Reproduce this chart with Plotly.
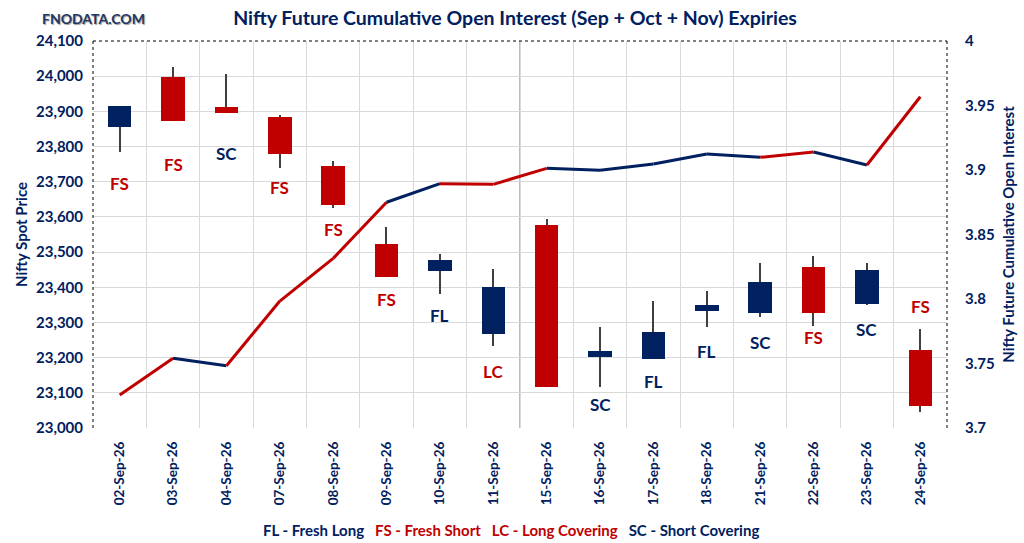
import plotly.graph_objs as go

NAVY = '#002060'
RED = '#C00000'
FONT = 'Lato'

dates = ['02-Sep-26', '03-Sep-26', '04-Sep-26', '07-Sep-26', '08-Sep-26', '09-Sep-26',
         '10-Sep-26', '11-Sep-26', '15-Sep-26', '16-Sep-26', '17-Sep-26', '18-Sep-26',
         '21-Sep-26', '22-Sep-26', '23-Sep-26', '24-Sep-26']

# spot price candles
price_open = [23856, 23998, 23912, 23884, 23745, 23523, 23447, 23268,
              23577, 23202, 23197, 23333, 23328, 23458, 23353, 23222]
price_close = [23915, 23873, 23896, 23780, 23635, 23430, 23478, 23400,
               23117, 23219, 23273, 23350, 23415, 23328, 23449, 23063]
price_high = [23915, 24025, 24006, 23890, 23758, 23572, 23495, 23451,
              23594, 23286, 23362, 23389, 23468, 23489, 23468, 23281]
price_low = [23785, 23873, 23896, 23738, 23624, 23430, 23381, 23233,
             23117, 23116, 23197, 23288, 23315, 23290, 23350, 23046]

# cumulative open interest (right axis)
oi = [3.7256, 3.7540, 3.7483, 3.7984, 3.8315, 3.8750, 3.8894, 3.8889,
      3.9013, 3.8998, 3.9047, 3.9124, 3.9098, 3.9140, 3.9039, 3.9568]
# colour of each OI segment (i -> i+1): S = red, L = navy
oi_seg = ['S', 'L', 'S', 'S', 'S', 'L', 'S', 'S', 'L', 'L', 'L', 'L', 'S', 'L', 'S']

# build-up labels and the price level they sit at
tags = ['FS', 'FS', 'SC', 'FS', 'FS', 'FS', 'FL', 'LC', '', 'SC', 'FL', 'FL', 'SC', 'FS', 'SC', 'FS']
tag_y = [23696, 23748, 23779, 23685, 23563, 23364, 23321, 23160,
         23300, 23068, 23132, 23217, 23242, 23256, 23279, 23344]

y_ticks = list(range(23000, 24101, 100))
y2_ticks = [3.7, 3.75, 3.8, 3.85, 3.9, 3.95, 4.0]
y2_text = ['3.7', '3.75', '3.8', '3.85', '3.9', '3.95', '4']

fig = go.Figure()

body_col = [NAVY if c > o else RED for o, c in zip(price_open, price_close)]

# wicks
fig.add_trace(go.Bar(
    x=dates,
    y=[h - l for h, l in zip(price_high, price_low)],
    base=price_low,
    width=0.022,
    marker={'color': '#404040', 'line': {'width': 0}},
    hoverinfo='skip',
    showlegend=False
))

# bodies
fig.add_trace(go.Bar(
    x=dates,
    y=[max(abs(c - o), 2) for o, c in zip(price_open, price_close)],
    base=[min(o, c) for o, c in zip(price_open, price_close)],
    width=0.44,
    marker={'color': body_col, 'line': {'width': 0}},
    showlegend=False
))

# OI line, one segment at a time
for i in range(len(oi) - 1):
    fig.add_trace(go.Scatter(
        x=dates[i:i + 2],
        y=oi[i:i + 2],
        mode='lines',
        line={'color': RED if oi_seg[i] == 'S' else NAVY, 'width': 3},
        yaxis='y2',
        showlegend=False
    ))

# labels
for d, t, ty in zip(dates, tags, tag_y):
    if not t:
        continue
    fig.add_annotation(
        x=d, y=ty, text=t, showarrow=False,
        font={'family': FONT, 'size': 17, 'weight': 'bold',
              'color': RED if t in ('FS', 'LC') else NAVY}
    )

# separator between 11-Sep and 15-Sep
fig.add_shape(type='line', xref='x', yref='paper', x0=7.5, x1=7.5, y0=0, y1=1,
              line={'color': '#A6A6A6', 'width': 1.5}, layer='below')

# dotted frame (left, top, right)
for x0, y0, x1, y1 in [(0, 0, 0, 1), (0, 1, 1, 1), (1, 0, 1, 1)]:
    fig.add_shape(type='line', xref='paper', yref='paper', x0=x0, y0=y0, x1=x1, y1=y1,
                  line={'color': 'black', 'width': 1, 'dash': 'dot'})

fig.add_annotation(
    xref='paper', yref='paper', x=0.49, y=-0.264, showarrow=False,
    xanchor='center', yanchor='middle',
    text=(f"<span style='color:{NAVY}'>FL - Fresh Long</span>   "
          f"<span style='color:{RED}'>FS - Fresh Short</span>   "
          f"<span style='color:{RED}'>LC - Long Covering</span>   "
          f"<span style='color:{NAVY}'>SC - Short Covering</span>"),
    font={'family': FONT, 'size': 15, 'weight': 'bold'}
)

fig.add_annotation(
    xref='paper', yref='paper', x=0.0, y=1.059, showarrow=False,
    xanchor='center', yanchor='middle',
    text='FNODATA.COM',
    font={'family': FONT, 'size': 14, 'weight': 'bold', 'color': '#1F3864',
          'shadow': '1px 1px 1px #9a9a9a'}
)

fig.update_layout(
    title={'text': 'Nifty Future Cumulative Open Interest (Sep + Oct + Nov) Expiries',
           'x': 0.503, 'xanchor': 'center', 'y': 0.967, 'yanchor': 'middle',
           'font': {'family': FONT, 'size': 19.5, 'weight': 'bold', 'color': NAVY}},
    width=1024, height=543,
    margin={'l': 93, 'r': 77, 't': 41, 'b': 115},
    plot_bgcolor='white', paper_bgcolor='white',
    barmode='overlay',
    bargap=0,
    xaxis={'type': 'category', 'tickson': 'boundaries', 'tickangle': -90,
           'showgrid': True, 'gridcolor': '#D9D9D9', 'gridwidth': 1,
           'ticks': '', 'ticklabelstandoff': 10,
           'tickfont': {'family': FONT, 'size': 13.5, 'weight': 'bold', 'color': NAVY},
           'range': [-0.5, 15.5], 'automargin': False, 'zeroline': False},
    yaxis={'range': [23000, 24100], 'tickvals': y_ticks, 'tickformat': ',d',
           'showgrid': True, 'gridcolor': '#D9D9D9', 'gridwidth': 1,
           'ticks': 'outside', 'ticklen': 6, 'tickcolor': 'white',
           'tickfont': {'family': FONT, 'size': 15, 'weight': 'bold', 'color': NAVY},
           'title': {'text': 'Nifty Spot Price', 'standoff': 4,
                     'font': {'family': FONT, 'size': 15, 'weight': 'bold', 'color': NAVY}},
           'automargin': False, 'zeroline': False},
    yaxis2={'range': [3.7, 4.0], 'overlaying': 'y', 'side': 'right',
            'tickvals': y2_ticks, 'ticktext': y2_text, 'showgrid': False,
            'ticks': 'outside', 'ticklen': 14, 'tickcolor': 'white',
            'tickfont': {'family': FONT, 'size': 15, 'weight': 'bold', 'color': NAVY},
            'title': {'text': 'Nifty Future Cumulative Open Interest', 'standoff': 9,
                      'font': {'family': FONT, 'size': 15, 'weight': 'bold', 'color': NAVY}},
            'automargin': False, 'zeroline': False}
)

fig.write_html('out.html', config={'displayModeBar': False},
               post_script="document.body.style.margin='0px';")
